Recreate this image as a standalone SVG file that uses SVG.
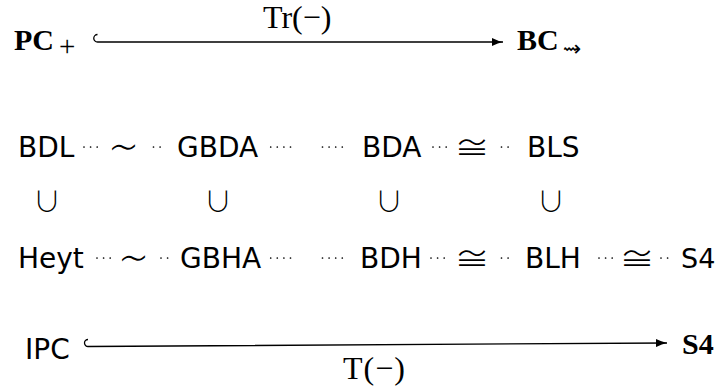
<svg xmlns="http://www.w3.org/2000/svg" width="719" height="387" viewBox="0 0 719 387">
<style>
  .sf{font-family:"DejaVu Sans","Liberation Sans",sans-serif;font-size:28px;fill:#000}
  .bf{font-family:"Liberation Serif",serif;font-weight:bold;font-size:30px;fill:#000}
  .rm{font-family:"Liberation Serif",serif;font-size:32px;fill:#000}
  .sim{font-family:"Noto Sans CJK JP","DejaVu Sans",sans-serif;font-weight:200;font-size:48px;fill:#000;text-anchor:middle}
  .sym{font-family:"Noto Sans CJK JP","DejaVu Sans",sans-serif;font-weight:300;font-size:35px;fill:#000;text-anchor:middle}
  .cup{font-family:"Noto Sans CJK JP","DejaVu Sans",sans-serif;font-weight:300;font-size:28px;fill:#000;text-anchor:middle}
  .edge{fill:none;stroke:#000;stroke-width:1.3}
  .dots{fill:none;stroke:#000;stroke-width:1.7;stroke-linecap:round;stroke-dasharray:0 6.6}
</style>
<defs>
  <marker id="head" viewBox="0 0 11 8" refX="11" refY="4" markerWidth="11" markerHeight="8" markerUnits="userSpaceOnUse" orient="auto">
    <path d="M0,0 Q6,3 11,4 Q6,5 0,8 Z" fill="#000"/>
  </marker>
</defs>

<!-- top row: PC+ hooked into BC -->
<g id="pcplus"><text class="bf" x="14" y="50">PC</text><text x="59" y="56" style="font-family:'Liberation Serif',serif;font-size:29px">+</text></g>
<g id="bc"><text class="bf" x="517" y="50">BC</text><text x="563" y="56" style="font-family:'DejaVu Sans',sans-serif;font-size:22px">⇝</text></g>

<!-- middle rows -->
<g id="bdl"><text class="sf" x="18" y="157">BDL</text></g>
<g id="gbda"><text class="sf" x="177" y="157">GBDA</text></g>
<g id="bda"><text class="sf" x="362" y="157">BDA</text></g>
<g id="bls"><text class="sf" x="527" y="157">BLS</text></g>

<g id="heyt"><text class="sf" x="18" y="268">Heyt</text></g>
<g id="gbha"><text class="sf" x="180" y="268">GBHA</text></g>
<g id="bdh"><text class="sf" x="360" y="268">BDH</text></g>
<g id="blh"><text class="sf" x="525" y="268">BLH</text></g>
<g id="s4sf"><text class="sf" x="681" y="268" style="font-size:27px">S4</text></g>

<!-- bottom row -->
<g id="ipc"><text class="sf" x="25" y="359">IPC</text></g>
<g id="s4"><text class="bf" x="682" y="354">S4</text></g>

<g id="connectors">
  <!-- inclusions -->
  <text class="cup" x="47" y="211.5">∪</text>
  <text class="cup" x="218" y="211.5">∪</text>
  <text class="cup" x="389" y="211.5">∪</text>
  <text class="cup" x="551" y="211.5">∪</text>

  <!-- dotted equivalences, upper row -->
  <path class="dots" d="M84,147 h13.3 M153.5,147 h6.7 M270.7,147 h20.1 M322.5,147 h20.1 M433,147 h13.3 M501.5,147 h6.7"/>
  <text class="sim" x="123.5" y="163.6">∼</text>
  <text class="sym" x="472" y="160.3">≅</text>

  <!-- dotted equivalences, lower row -->
  <path class="dots" d="M97,258 h13.3 M161,258 h6.7 M270.7,258 h20.1 M322.5,258 h20.1 M431,258 h13.3 M501.5,258 h6.7 M599,258 h13.3 M661,258 h6.7"/>
  <text class="sim" x="133.5" y="274.6">∼</text>
  <text class="sym" x="472" y="271.3">≅</text>
  <text class="sym" x="637" y="271.3">≅</text>

  <!-- hooked arrows -->
  <path class="edge" d="M97.5,34.5 A3.75,3.75 0 0 0 97.5,42 L503,42" marker-end="url(#head)"/>
  <text class="rm" x="263" y="28">Tr(−)</text>
  <path class="edge" d="M88,339.5 A3.5,3.5 0 0 0 88,346.5 L667,343" marker-end="url(#head)"/>
  <text class="rm" x="343" y="379" textLength="62">T(−)</text>
</g>
</svg>
